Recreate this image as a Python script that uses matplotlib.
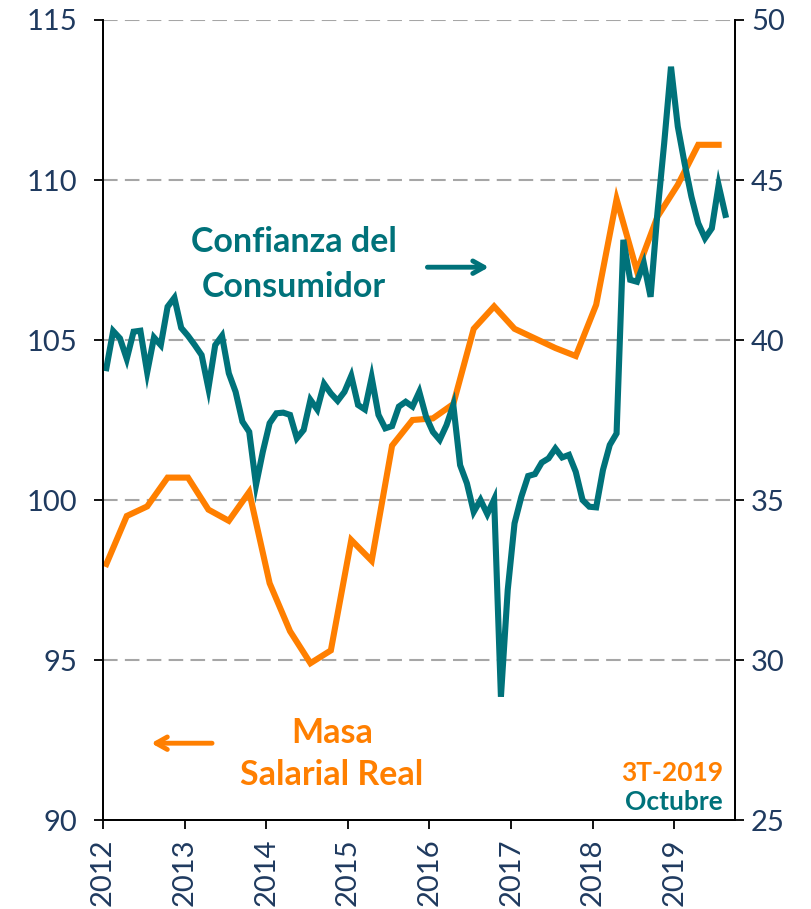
import numpy as np
import matplotlib.pyplot as plt

# Datos
anios = ['2012', '2013', '2014', '2015', '2016', '2017', '2018', '2019']

# Masa Salarial Real (trimestral, eje izquierdo)
masa_salarial = [98.0, 99.5, 99.8, 100.7, 100.7, 99.7, 99.35, 100.25,
                 97.4, 95.9, 94.9, 95.3, 98.75, 98.1, 101.7, 102.5,
                 102.55, 103.0, 105.35, 106.05, 105.35, 105.05, 104.75, 104.5,
                 106.1, 109.4, 107.15, 108.85, 109.85, 111.1, 111.1]

# Confianza del Consumidor (mensual, eje derecho)
confianza = [39.12, 40.28, 40.05, 39.41, 40.26, 40.29, 38.99, 40.08, 39.84, 41.04,
             41.32, 40.38, 40.13, 39.84, 39.53, 38.49, 39.84, 40.13, 38.96, 38.38,
             37.45, 37.13, 35.47, 36.51, 37.40, 37.71, 37.73, 37.66, 36.93, 37.19,
             38.13, 37.83, 38.63, 38.33, 38.10, 38.38, 38.88, 37.97, 37.83, 38.83,
             37.66, 37.24, 37.31, 37.92, 38.07, 37.92, 38.38, 37.60, 37.13, 36.88,
             37.34, 37.97, 36.09, 35.52, 34.63, 35.00, 34.56, 35.02, 28.85, 32.19,
             34.27, 35.10, 35.75, 35.81, 36.17, 36.30, 36.61, 36.33, 36.41, 35.88,
             35.00, 34.79, 34.77, 35.94, 36.72, 37.08, 43.13, 41.88, 41.82, 42.40,
             41.35, 43.96, 46.15, 48.54, 46.67, 45.52, 44.48, 43.65, 43.18, 43.49,
             44.84, 43.91]

teal = '#00727A'
naranja = '#FF7F00'
texto = '#1F3A5F'
fuente = 'Lato'

plt.rcParams['font.family'] = [fuente, 'DejaVu Sans']

fig = plt.figure(figsize=(8.12, 9.09), dpi=100)
ax = fig.add_axes([0.1268, 0.0979, 0.7783, 0.8801])
ax2 = ax.twinx()

meses_masa = np.arange(len(masa_salarial)) * 3
meses_conf = np.arange(len(confianza))

ax.plot(meses_masa, masa_salarial, color=naranja, lw=4.4, solid_joinstyle='miter')
ax2.plot(meses_conf, confianza, color=teal, lw=4.4, solid_joinstyle='miter')

ax.set_xlim(-0.5, 92.4)
ax.set_ylim(90, 115)
ax2.set_ylim(25, 50)
ax.set_yticks(range(90, 116, 5))
ax2.set_yticks(range(25, 51, 5))
ax.set_xticks(np.arange(len(anios)) * 12 - 0.5)
ax.set_xticklabels(anios, rotation=90)

# rejilla discontinua
for v in range(95, 116, 5):
    ax.axhline(v, color='#A6A6A6', lw=1.5, ls=(0, (7, 3.5)), zorder=0)

for a in (ax, ax2):
    a.spines['top'].set_visible(False)
    for s in ('left', 'right', 'bottom'):
        a.spines[s].set_linewidth(1.3)
        a.spines[s].set_color('black')
    a.tick_params(direction='out', length=6.5, width=1.3, colors='black',
                  labelcolor=texto, labelsize=21)
ax.tick_params(axis='y', pad=12)
ax.tick_params(axis='x', pad=7)
ax2.tick_params(axis='y', pad=5)

# anotaciones
ax.text(0.302, 0.694, 'Confianza del\nConsumidor', transform=ax.transAxes,
        ha='center', va='center', color=teal, fontsize=24.5, fontweight='bold',
        linespacing=1.5)
ax.annotate('', xy=(0.615, 0.691), xytext=(0.509, 0.691), xycoords='axes fraction',
            arrowprops=dict(arrowstyle='->,head_length=0.8,head_width=0.45',
                            color=teal, lw=3.5))

ax.text(0.362, 0.0825, 'Masa\nSalarial Real', transform=ax.transAxes,
        ha='center', va='center', color=naranja, fontsize=24.5, fontweight='bold',
        linespacing=1.4)
ax.annotate('', xy=(0.072, 0.096), xytext=(0.177, 0.096), xycoords='axes fraction',
            arrowprops=dict(arrowstyle='->,head_length=0.8,head_width=0.45',
                            color=naranja, lw=3.5))

ax.text(0.981, 0.059, '3T-2019', transform=ax.transAxes, ha='right', va='center',
        color=naranja, fontsize=19, fontweight='bold')
ax.text(0.981, 0.023, 'Octubre', transform=ax.transAxes, ha='right', va='center',
        color=teal, fontsize=19, fontweight='bold')

fig.savefig('out.png', dpi=100)
